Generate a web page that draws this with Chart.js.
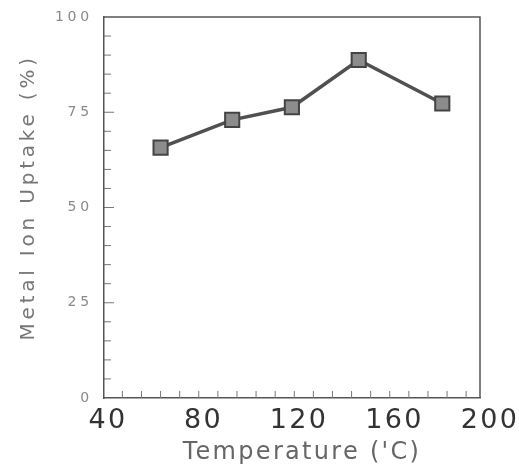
<!DOCTYPE html>
<html>
<head>
<meta charset="utf-8">
<script src="https://cdn.jsdelivr.net/npm/chart.js@4/dist/chart.umd.min.js"></script>
<style>
  html, body { margin: 0; padding: 0; background: #fff; }
  #wrap { width: 519px; height: 473px; }
</style>
</head>
<body>
<div id="wrap"><canvas id="chart" width="519" height="473"></canvas></div>
<script>
// Data
const temperatures = [62, 92, 117, 145, 180];
const uptake = [65.7, 73.0, 76.3, 88.7, 77.3];
const xTickValues = [40, 80, 120, 160, 200];
const yTickValues = [0, 25, 50, 75, 100];
const xMinorTicks = [46, 54, 62, 70, 78, 86, 94, 102, 110, 118, 126, 134, 142, 150, 158, 166, 174, 182, 190];
const yMinorTicks = [5, 10, 15, 20, 30, 35, 40, 45, 55, 60, 65, 70, 80, 85, 90, 95];
const yMajorTicks = [25, 50, 75];

const frameColor = '#555';
const fontFamily = 'DejaVu Sans, Verdana, sans-serif';

// the scanned figure has widely spaced lettering
const spacingPlugin = {
    id: 'spacing',
    beforeDraw(chart) { chart.ctx.letterSpacing = '2.3px'; },      // x axis layers (z <= 0)
    afterDatasetsDraw(chart) { chart.ctx.letterSpacing = '3.8px'; } // y axis layers (z 1)
};

// frame box and inward tick marks
const framePlugin = {
    id: 'frame',
    afterDatasetsDraw(chart) {
        const { ctx, chartArea, scales } = chart;
        ctx.save();
        ctx.strokeStyle = frameColor;
        ctx.lineWidth = 1.5;
        ctx.beginPath();
        ctx.moveTo(chartArea.left, chartArea.top);
        ctx.lineTo(chartArea.right, chartArea.top);
        ctx.lineTo(chartArea.right, chartArea.bottom);
        ctx.stroke();

        ctx.lineWidth = 1;
        ctx.strokeStyle = '#777';
        ctx.beginPath();
        yMinorTicks.forEach(v => {
            const y = scales.y.getPixelForValue(v);
            ctx.moveTo(chartArea.left, y);
            ctx.lineTo(chartArea.left + 7, y);
        });
        yMajorTicks.forEach(v => {
            const y = scales.y.getPixelForValue(v);
            ctx.moveTo(chartArea.left, y);
            ctx.lineTo(chartArea.left + 10, y);
        });
        xMinorTicks.forEach(v => {
            const x = scales.x.getPixelForValue(v);
            ctx.moveTo(x, chartArea.bottom);
            ctx.lineTo(x, chartArea.bottom - 7);
        });
        ctx.stroke();
        ctx.restore();
    }
};

const ctx = document.getElementById('chart').getContext('2d');
new Chart(ctx, {
    type: 'line',
    data: {
        datasets: [{
            data: temperatures.map((t, i) => ({ x: t, y: uptake[i] })),
            borderColor: '#505050',
            borderWidth: 3.5,
            pointStyle: 'rect',
            pointRadius: 10,
            pointBackgroundColor: '#8c8c8c',
            pointBorderColor: '#444',
            pointBorderWidth: 2,
            tension: 0
        }]
    },
    options: {
        responsive: false,
        animation: false,
        layout: { padding: { top: 17, right: 39, bottom: 0, left: 0 } },
        plugins: {
            legend: { display: false },
            tooltip: { enabled: false }
        },
        scales: {
            x: {
                type: 'linear',
                min: 38.3,
                max: 195.8,
                afterBuildTicks: (scale) => { scale.ticks = xTickValues.map(v => ({ value: v })); },
                afterFit: (scale) => {
                    scale.height = 75;
                    scale.paddingLeft = 0;
                    scale.paddingRight = 0;
                },
                grid: { display: false, drawTicks: false },
                border: { display: true, color: frameColor, width: 1.5 },
                ticks: {
                    autoSkip: false,
                    maxRotation: 0,
                    padding: 7,
                    color: '#333',
                    font: { family: fontFamily, size: 27 }
                },
                title: {
                    display: true,
                    text: "  Temperature ('C)",
                    color: '#666',
                    padding: { top: 0, bottom: 6 },
                    font: { family: fontFamily, size: 24 }
                }
            },
            y: {
                min: 0,
                max: 100,
                afterBuildTicks: (scale) => { scale.ticks = yTickValues.map(v => ({ value: v })); },
                afterFit: (scale) => {
                    scale.width = 104;
                    scale.paddingTop = 0;
                    scale.paddingBottom = 0;
                },
                grid: { display: false, drawTicks: false, z: 1 },
                border: { display: true, color: frameColor, width: 1.5, z: 1 },
                ticks: {
                    z: 1,
                    padding: 11,
                    color: '#8a8a8a',
                    font: { family: fontFamily, size: 14 }
                },
                title: {
                    display: true,
                    text: '  Metal Ion Uptake (%)',
                    color: '#777',
                    padding: { top: 17, bottom: 0 },
                    font: { family: fontFamily, size: 20 }
                }
            }
        }
    },
    plugins: [spacingPlugin, framePlugin]
});
</script>
</body>
</html>
